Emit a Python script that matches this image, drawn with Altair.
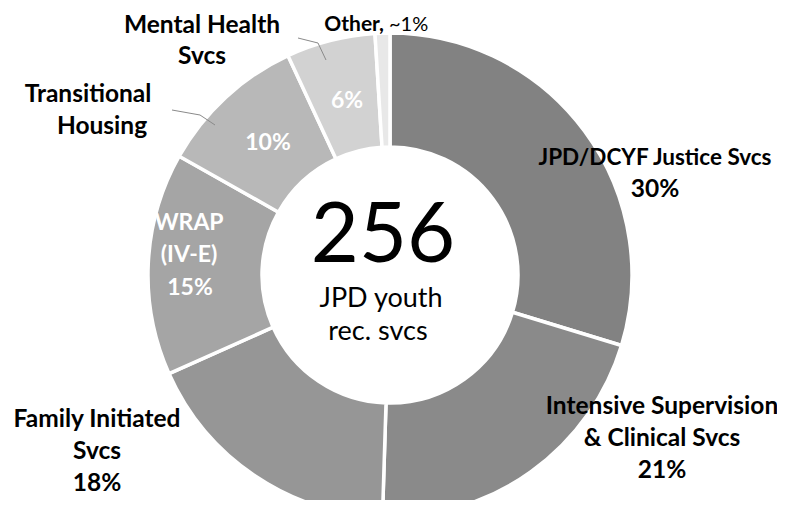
import altair as alt
import pandas as pd

categories = ["JPD/DCYF Justice Svcs", "Intensive Supervision & Clinical Svcs",
              "Family Initiated Svcs", "WRAP (IV-E)", "Transitional Housing",
              "Mental Health Svcs", "Other"]
values = [30, 21, 18, 15, 10, 6, 1]
shades = ["#828282", "#8a8a8a", "#969696", "#a5a5a5", "#b8b8b8", "#d2d2d2", "#e8e8e8"]
center_number = "256"
center_caption = ["JPD youth", "rec. svcs"]

df = pd.DataFrame({"category": categories, "value": values,
                   "order": list(range(len(categories)))})

OX, OY = 8, 8  # page margin
CX, CY = 390 - OX, 275 - OY
FONT = "Lato"
LBL = 24.5

donut = alt.Chart(df).mark_arc(outerRadius=242, innerRadius=128,
                               stroke="white", strokeWidth=3.5).encode(
    theta=alt.Theta("value:Q", stack=True),
    order=alt.Order("order:Q"),
    color=alt.Color("category:N", scale=alt.Scale(domain=categories, range=shades),
                    legend=None),
    x=alt.value(CX), y=alt.value(CY),
)


def txt(s, x, y, size=LBL, weight="bold", color="black", align="center"):
    return alt.Chart(df).transform_filter("datum.order == 0").mark_text(
        font=FONT, fontSize=size, fontWeight=weight, color=color,
        align=align, baseline="alphabetic").encode(
        text=alt.value(s), x=alt.value(x - OX), y=alt.value(y - OY))


def leader(x1, y1, x2, y2):
    return alt.Chart(df).transform_filter("datum.order == 0").mark_rule(
        color="#8a8a8a", strokeWidth=1).encode(
        x=alt.value(x1 - OX), y=alt.value(y1 - OY),
        x2=alt.value(x2 - OX), y2=alt.value(y2 - OY))


pct = [f"{v}%" for v in values]
layers = [
    donut,
    leader(298, 38, 318, 43), leader(318, 43, 326, 60),
    leader(172, 110, 200, 115), leader(200, 115, 215, 125),
    # outside labels
    txt("JPD/DCYF Justice Svcs", 655, 165, size=22.5),
    txt(pct[0], 655, 197),
    txt("Intensive Supervision", 662, 414),
    txt("& Clinical Svcs", 662, 446),
    txt(pct[1], 662, 478),
    txt("Family Initiated", 97, 427),
    txt("Svcs", 97, 459),
    txt(pct[2], 97, 491),
    txt("Transitional", 88, 102),
    txt("Housing", 102, 134),
    txt("Mental Health", 202, 33),
    txt("Svcs", 202, 64),
    txt("Other,", 384, 31, size=21, align="right"),
    txt("~1%", 389, 31, size=20, weight="normal", align="left"),
    # inside labels
    txt("WRAP", 189, 230, size=23, color="white"),
    txt("(IV-E)", 189, 262, size=23, color="white"),
    txt(pct[3], 190, 295, size=23, color="white"),
    txt(pct[4], 268, 150, size=23, color="white"),
    txt(pct[5], 347, 108, size=23, color="white"),
    # center
    txt(center_number, 383, 262, size=83, weight="normal"),
    txt(center_caption[0], 381, 307, size=27, weight="normal"),
    txt(center_caption[1], 378, 340, size=27, weight="normal"),
]

chart = alt.layer(*layers).properties(
    width=769, height=492,
    autosize=alt.AutoSizeParams(type="fit", contains="padding"),
    padding=0,
).configure_view(stroke=None)

chart.save("out.html", embed_options={"renderer": "svg", "actions": False})
